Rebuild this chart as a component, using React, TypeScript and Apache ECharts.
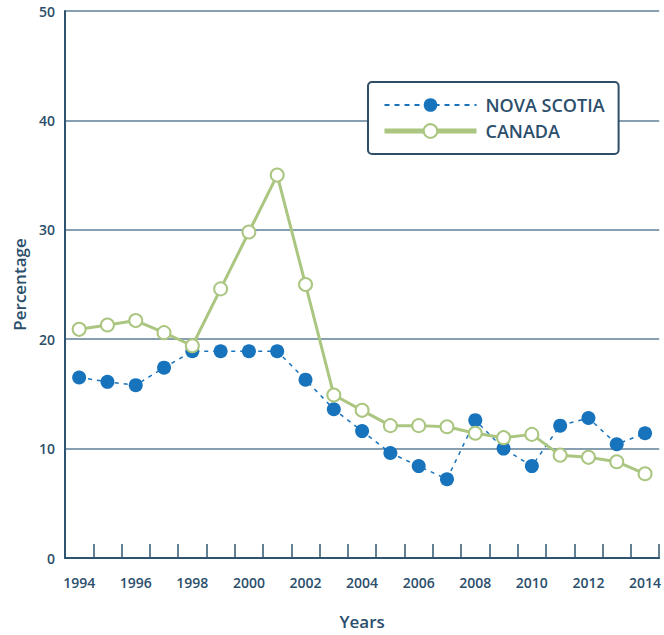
import React, { useEffect, useRef } from "react";
import * as echarts from "echarts";

const years = [
  "1994", "1995", "1996", "1997", "1998", "1999", "2000", "2001", "2002", "2003", "2004",
  "2005", "2006", "2007", "2008", "2009", "2010", "2011", "2012", "2013", "2014",
];
const novaScotia = [16.5, 16.1, 15.8, 17.4, 18.9, 18.9, 18.9, 18.9, 16.3, 13.6, 11.6, 9.6, 8.4, 7.2, 12.6, 10.0, 8.4, 12.1, 12.8, 10.4, 11.4];
const canada = [20.9, 21.3, 21.7, 20.6, 19.4, 24.6, 29.8, 35.0, 25.0, 14.9, 13.5, 12.1, 12.1, 12.0, 11.4, 11.0, 11.3, 9.4, 9.2, 8.8, 7.7];

const TEXT = "#2b4e6b";
const AXIS = "#2f5470";
const GRID = "#5f7f96";
const BLUE = "#1873bd";
const GREEN = "#abc680";
const FONT = "'Open Sans', Lato, sans-serif";

export default function App() {
  const ref = useRef<HTMLDivElement>(null);
  useEffect(() => {
    if (!ref.current) return;
    const chart = echarts.init(ref.current, undefined, { renderer: "svg" });
    chart.setOption({
      animation: false,
      backgroundColor: "#ffffff",
      textStyle: { fontFamily: FONT },
      grid: { left: 65, right: 3, top: 11, bottom: 76, containLabel: false },
      legend: {
        orient: "vertical",
        left: 368,
        top: 82,
        padding: [14, 14, 14, 14],
        itemGap: 8,
        itemWidth: 92,
        itemHeight: 17,
        backgroundColor: "#ffffff",
        borderColor: "#2e4d66",
        borderWidth: 2,
        borderRadius: 4,
        textStyle: { color: TEXT, fontSize: 18, fontWeight: 600, fontFamily: FONT, padding: [0, 0, 0, 4] },
        data: [
          { name: "NOVA SCOTIA", lineStyle: { width: 2, type: [5, 5] } },
          { name: "CANADA", lineStyle: { width: 5 } },
        ],
      },
      xAxis: {
        type: "category",
        data: years,
        boundaryGap: true,
        name: "Years",
        nameLocation: "middle",
        nameGap: 55,
        nameTextStyle: { color: TEXT, fontSize: 17, fontWeight: 600, fontFamily: FONT },
        axisLine: { lineStyle: { color: AXIS, width: 2 } },
        axisTick: { show: true, inside: true, length: 14, interval: 0, lineStyle: { color: AXIS, width: 1.5 } },
        axisLabel: { interval: 1, color: TEXT, fontSize: 14, fontWeight: 600, margin: 17, fontFamily: FONT },
        splitLine: { show: false },
      },
      yAxis: {
        type: "value",
        min: 0,
        max: 50,
        interval: 10,
        name: "Percentage",
        nameLocation: "middle",
        nameGap: 36,
        nameRotate: 90,
        nameTextStyle: { color: TEXT, fontSize: 17, fontWeight: 600, fontFamily: FONT },
        axisLine: { show: true, lineStyle: { color: AXIS, width: 2 } },
        axisTick: { show: false },
        axisLabel: { color: TEXT, fontSize: 14, fontWeight: 600, margin: 10, fontFamily: FONT },
        splitLine: { show: true, lineStyle: { color: GRID, width: 1.5 } },
      },
      series: [
        {
          name: "NOVA SCOTIA",
          type: "line",
          data: novaScotia,
          symbol: "circle",
          symbolSize: 14,
          lineStyle: { color: BLUE, width: 1.5, type: [4, 5] },
          itemStyle: { color: BLUE, borderColor: BLUE, borderWidth: 0 },
          z: 3,
        },
        {
          name: "CANADA",
          type: "line",
          data: canada,
          symbol: "circle",
          symbolSize: 13,
          showAllSymbol: true,
          lineStyle: { color: GREEN, width: 3 },
          itemStyle: { color: "#ffffff", borderColor: GREEN, borderWidth: 2 },
          z: 4,
        },
      ],
    });
    return () => chart.dispose();
  }, []);
  return <div ref={ref} style={{ width: 664, height: 635, position: "absolute", left: 0, top: 0 }} />;
}
